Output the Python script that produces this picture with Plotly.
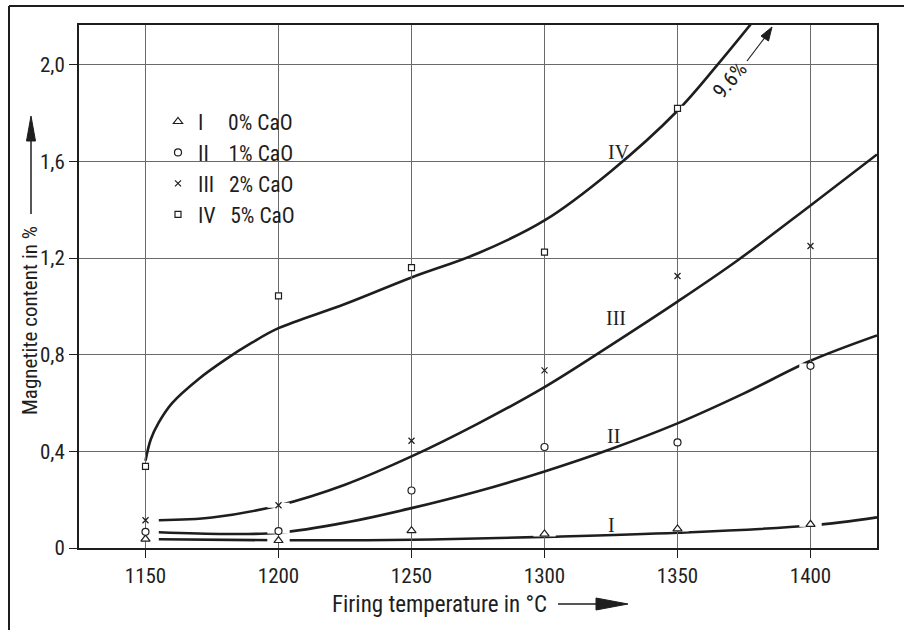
import plotly.graph_objects as go

# Measured magnetite content (%) at each firing temperature (°C)
temps = [1150, 1200, 1250, 1300, 1350, 1400]
meas_I = [0.037, 0.031, 0.072, 0.058, 0.079, 0.098]     # 0 % CaO
meas_II = [0.067, 0.070, 0.238, 0.418, 0.437, 0.754]    # 1 % CaO
meas_III = [0.115, 0.177, 0.444, 0.735, 1.126, 1.250]   # 2 % CaO
temps_IV = [1150, 1200, 1250, 1300, 1350]
meas_IV = [0.338, 1.044, 1.161, 1.225, 1.820]           # 5 % CaO

# Smoothed trend curves through the measurements
fit_I_t = [1155, 1200, 1250, 1300, 1350, 1400, 1425]
fit_I = [0.036, 0.032, 0.034, 0.046, 0.063, 0.093, 0.127]
fit_II_t = [1155, 1180, 1200, 1225, 1250, 1275, 1300, 1325, 1350, 1375, 1400, 1425]
fit_II = [0.065, 0.058, 0.063, 0.105, 0.165, 0.235, 0.317, 0.410, 0.516, 0.640, 0.775, 0.880]
fit_III_t = [1155, 1175, 1200, 1225, 1250, 1275, 1300, 1325, 1350, 1372, 1400, 1425]
fit_III = [0.115, 0.126, 0.176, 0.262, 0.379, 0.515, 0.666, 0.840, 1.020, 1.186, 1.418, 1.629]
fit_IV_t = [1150, 1152, 1155, 1160, 1170, 1180, 1190, 1200, 1225, 1250, 1275, 1300, 1325, 1350, 1365, 1385]
fit_IV = [0.361, 0.450, 0.520, 0.600, 0.700, 0.780, 0.850, 0.910, 1.010, 1.120, 1.220, 1.356, 1.560, 1.810, 2.000, 2.270]
iv_peak = 9.6

labels = ["I", "II", "III", "IV"]
cao = ["0% CaO", "1% CaO", "2% CaO", "5% CaO"]
label_gap = [5, 4, 3, 3]   # no-break spaces between numeral and composition
label_pos_t = [1325, 1326, 1327, 1328]
label_pos_v = [0.096, 0.462, 0.953, 1.64]

y_ticks = [0, 0.4, 0.8, 1.2, 1.6, 2.0]
y_ticktext = ["0", "0,4", "0,8", "1,2", "1,6", "2,0"]

GRID = "#6a6a6a"
INK = "#1e1e1e"
COND = "Roboto Condensed, Roboto, Liberation Sans, sans-serif"

fig = go.Figure()

fits = [(fit_I_t, fit_I), (fit_II_t, fit_II), (fit_III_t, fit_III), (fit_IV_t, fit_IV)]
for t, v in fits:
    fig.add_trace(go.Scatter(x=t, y=v, mode="lines", showlegend=False, hoverinfo="skip",
                             line=dict(color=INK, width=2.6, shape="spline", smoothing=1.0)))

series = [(temps, meas_I, "triangle-up", 8), (temps, meas_II, "circle", 7),
          (temps, meas_III, "x-thin", 6), (temps_IV, meas_IV, "square", 6)]

# white break in the curve around each measurement
for t, v, _, _ in series:
    fig.add_trace(go.Scatter(x=t, y=v, mode="markers", showlegend=False, hoverinfo="skip",
                             marker=dict(symbol="line-ew", size=16,
                                         line=dict(color="white", width=5))))
# keep the vertical grid line running through the break
for t, v, _, _ in series:
    fig.add_trace(go.Scatter(x=t, y=v, mode="markers", showlegend=False, hoverinfo="skip",
                             marker=dict(symbol="line-ns", size=18,
                                         line=dict(color=GRID, width=1))))

for i, (t, v, sym, sz) in enumerate(series):
    name = labels[i] + "\u00a0" * label_gap[i] + cao[i]
    fig.add_trace(go.Scatter(x=t, y=v, mode="markers", name=name, legendgroup=labels[i],
                             marker=dict(symbol=sym, size=sz, color="white",
                                         line=dict(color=INK, width=1.2))))

def px_x(px):
    return (px - 79) / 798

def px_y(py):
    return (548 - py) / 523

shapes = [
    # blank panel behind the key
    dict(type="rect", xref="paper", yref="paper", layer="between",
         x0=px_x(158), x1=px_x(318), y0=px_y(238), y1=px_y(102),
         fillcolor="white", line=dict(width=0)),
    # gap in the 2.0 grid line for the off-scale note
    dict(type="rect", xref="paper", yref="paper", layer="between",
         x0=px_x(712), x1=px_x(757), y0=px_y(71), y1=px_y(59),
         fillcolor="white", line=dict(width=0)),
    # sheet border
    dict(type="line", xref="paper", yref="paper", x0=px_x(9), x1=px_x(9),
         y0=px_y(630), y1=px_y(6), line=dict(color=INK, width=2)),
    dict(type="line", xref="paper", yref="paper", x0=px_x(9), x1=px_x(904),
         y0=px_y(6), y1=px_y(6), line=dict(color=INK, width=2)),
    # x-title arrow
    dict(type="line", xref="paper", yref="paper", x0=px_x(558), x1=px_x(600),
         y0=px_y(604), y1=px_y(604), line=dict(color=INK, width=1.5)),
    dict(type="path", xref="paper", yref="paper",
         path=f"M{px_x(596)},{px_y(598)} L{px_x(628)},{px_y(604)} L{px_x(596)},{px_y(610)} Z",
         fillcolor=INK, line=dict(color=INK, width=1)),
    # y-title arrow
    dict(type="line", xref="paper", yref="paper", x0=px_x(31), x1=px_x(31),
         y0=px_y(214), y1=px_y(138), line=dict(color=INK, width=1.5)),
    dict(type="path", xref="paper", yref="paper",
         path=f"M{px_x(26.5)},{px_y(141)} L{px_x(31)},{px_y(116)} L{px_x(35.5)},{px_y(141)} Z",
         fillcolor=INK, line=dict(color=INK, width=1)),
    # off-scale arrow
    dict(type="line", xref="paper", yref="paper", x0=px_x(747), x1=px_x(766),
         y0=px_y(61), y1=px_y(36), line=dict(color=INK, width=1.2)),
    dict(type="path", xref="paper", yref="paper",
         path=(f"M{px_x(761)},{px_y(36)} L{px_x(772)},{px_y(27)} "
               f"L{px_x(768.5)},{px_y(41)} Z"),
         fillcolor=INK, line=dict(color=INK, width=1)),
]

annotations = [
    dict(x=px_x(439), y=px_y(604), xref="paper", yref="paper",
         xanchor="center", yanchor="middle",
         text="Firing temperature in °C", showarrow=False,
         font=dict(family=COND, size=23, color=INK)),
    dict(x=px_x(30), y=px_y(321), xref="paper", yref="paper", textangle=-90,
         xanchor="center", yanchor="middle",
         text="Magnetite content in %", showarrow=False,
         font=dict(family=COND, size=21, color=INK)),
    dict(x=px_x(730), y=px_y(80), xref="paper", yref="paper", textangle=-50,
         xanchor="center", yanchor="middle",
         text=f"{iv_peak}%", showarrow=False,
         font=dict(family=COND, size=21, color=INK)),
]
for lab, t, v in zip(labels, label_pos_t, label_pos_v):
    annotations.append(dict(x=t, y=v, text=lab, showarrow=False,
                            xanchor="center", yanchor="middle",
                            font=dict(family="Liberation Serif, serif", size=20, color=INK)))

fig.update_layout(
    width=904, height=630,
    margin=dict(l=79, r=27, t=25, b=82),
    paper_bgcolor="white", plot_bgcolor="white",
    shapes=shapes, annotations=annotations,
    legend=dict(x=px_x(158), y=px_y(101), xanchor="left", yanchor="top",
                bgcolor="rgba(0,0,0,0)", font=dict(family=COND, size=21.5, color=INK),
                tracegroupgap=0, itemwidth=30),
    xaxis=dict(range=[1125, 1425], tickvals=temps, ticks="outside", ticklen=8,
               tickcolor=INK, tickwidth=1, showgrid=True, gridcolor=GRID, gridwidth=1,
               showline=True, linecolor=INK, linewidth=2, mirror=True, zeroline=False,
               tickfont=dict(family=COND, size=21, color=INK)),
    yaxis=dict(range=[0, 2.165], tickvals=y_ticks, ticktext=y_ticktext, ticks="outside",
               ticklen=8, tickcolor=INK, tickwidth=1, showgrid=True, gridcolor=GRID,
               gridwidth=1, showline=True, linecolor=INK, linewidth=2, mirror=True,
               zeroline=False, tickfont=dict(family=COND, size=21, color=INK)),
)

fig.write_html("out.html")
